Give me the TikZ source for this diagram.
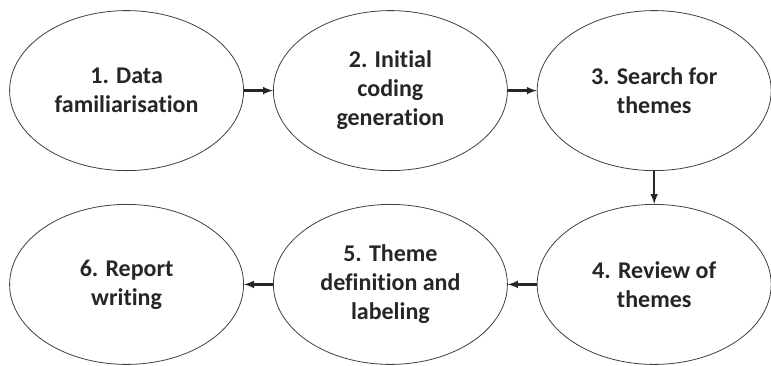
\documentclass[tikz,border=0pt]{standalone}
\usepackage{fontspec}
\setmainfont{Carlito}[Ligatures=NoCommon]
\usetikzlibrary{arrows,shapes.geometric}

\begin{document}
\begin{tikzpicture}[x=1pt,y=1pt]
\tikzstyle{phase} = [ellipse, draw=black!75, thick, fill=white,
minimum width=234pt, minimum height=160pt, inner sep=0pt,
align=center, text=black!85, font=\fontsize{24}{29}\selectfont\bfseries]
\tikzstyle{line} = [draw, line width=2.4pt, black!85, ->, >=latex];
\useasboundingbox (0,0) rectangle (771,-365);
\matrix [anchor=north west, inner sep=0pt, column sep=29pt, row sep=33pt]
at (9,-10)
{
% row 1
\node [phase] (familiar) {1. Data\\familiarisation}; &
\node [phase] (coding) {2. Initial\\coding\\generation}; &
\node [phase] (search) {3. Search for\\themes}; \\
% row 2
\node [phase] (report) {6. Report\\writing}; &
\node [phase] (define) {5. Theme\\definition and\\labeling}; &
\node [phase] (review) {4. Review of\\themes}; \\
};
\tikzstyle{every path}=[line]
\path (familiar) -- (coding);
\path (coding) -- (search);
\path (search) -- (review);
\path (review) -- (define);
\path (define) -- (report);
\end{tikzpicture}
\end{document}
